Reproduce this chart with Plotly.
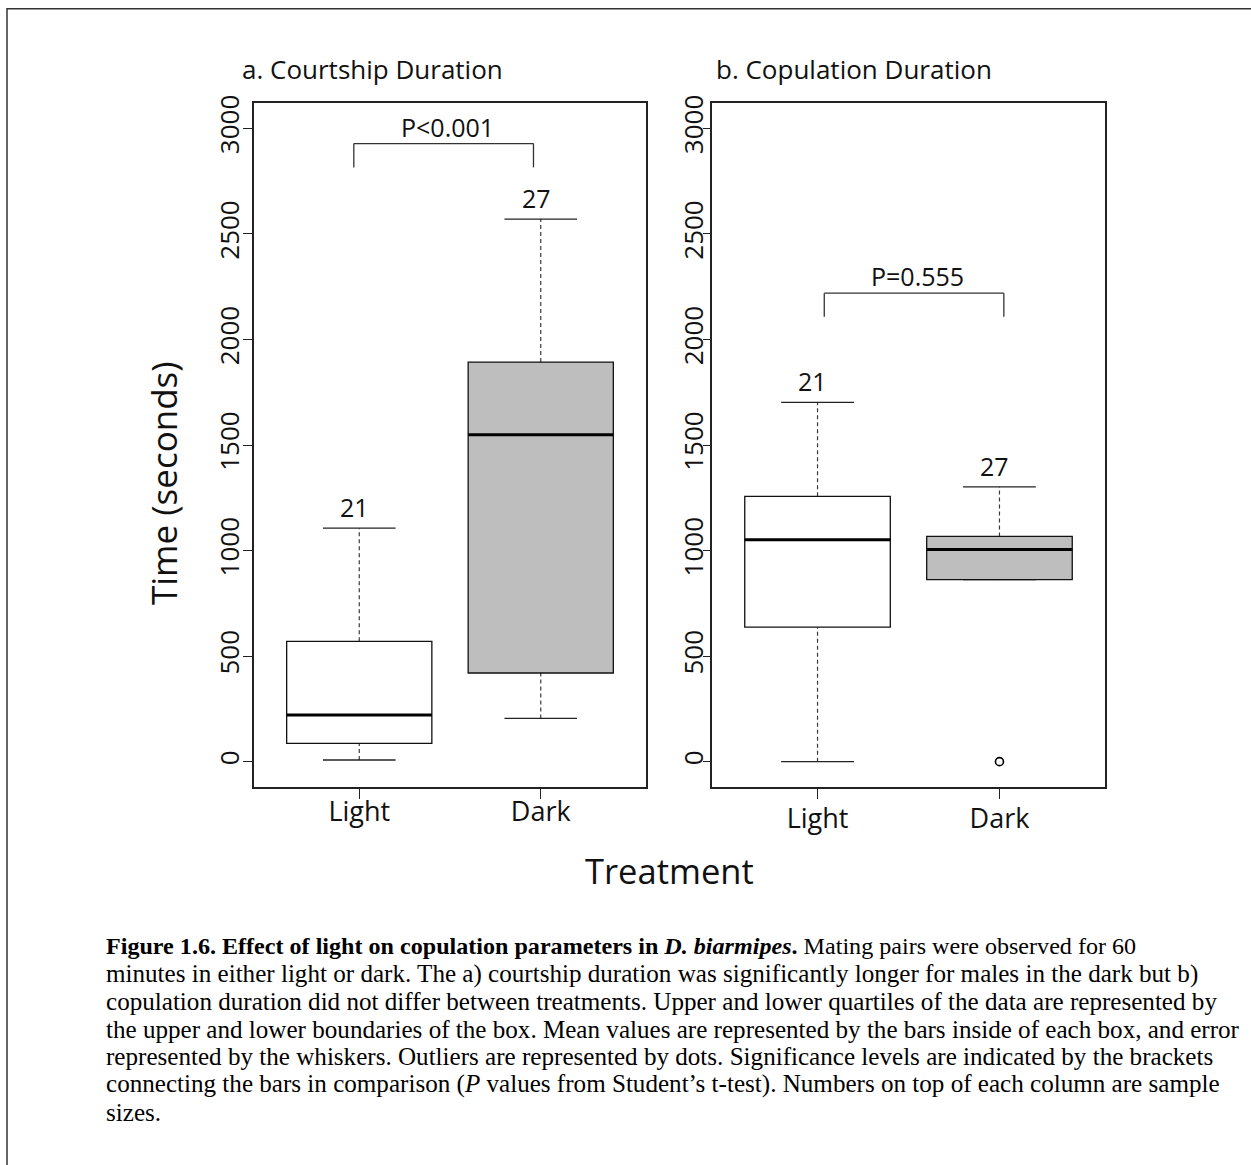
import plotly.graph_objects as go

W, H = 1251, 1165
# vertical placement: window rows are offset by a thin top strip
TOP_STRIP, V_SCALE = 8.0, 0.99313

# ---- data -------------------------------------------------------------
groups = ["Light", "Dark"]
box_fill = ["#FFFFFF", "#BEBEBE"]
y_ticks = [0, 500, 1000, 1500, 2000, 2500, 3000]

# a. courtship duration (seconds)
court_lower = [8, 205]
court_q1 = [87, 420]
court_median = [221, 1549]
court_q3 = [570, 1893]
court_upper = [1106, 2570]
court_n = [21, 27]
court_outliers = [[], []]
court_p = "P<0.001"

# b. copulation duration (seconds)
cop_lower = [0, 862]
cop_q1 = [637, 862]
cop_median = [1051, 1005]
cop_q3 = [1257, 1067]
cop_upper = [1702, 1302]
cop_n = [21, 27]
cop_outliers = [[], [0]]
cop_p = "P=0.555"

caption_lines = [
    "<b>Figure 1.6. Effect of light on copulation parameters in <i>D. biarmipes</i>.</b> Mating pairs were observed for 60",
    "minutes in either light or dark. The a) courtship duration was significantly longer for males in the dark but b)",
    "copulation duration did not differ between treatments. Upper and lower quartiles of the data are represented by",
    "the upper and lower boundaries of the box. Mean values are represented by the bars inside of each box, and error",
    "represented by the whiskers. Outliers are represented by dots. Significance levels are indicated by the brackets",
    "connecting the bars in comparison (<i>P</i> values from Student\u2019s t-test). Numbers on top of each column are sample",
    "sizes.",
]

FONT = "Open Sans"
BOX_W = 0.8
CAP_W = 0.4


def px(x):
    return x / W


def py(y):
    # window row -> paper fraction
    row = (y - TOP_STRIP) / V_SCALE
    return 1 - row / H


fig = go.Figure()


def add_panel(xref, yref, lower, q1, med, q3, upper, n, outliers,
              bracket, p_text):
    axis = dict(xref=xref, yref=yref)
    for i in range(len(groups)):
        xc = i + 1
        whisk = dict(color="#3a3a3a", width=1.2, dash="4px,3px")
        # whiskers
        fig.add_shape(type="line", x0=xc, x1=xc, y0=q3[i], y1=upper[i],
                      line=whisk, **axis)
        fig.add_shape(type="line", x0=xc, x1=xc, y0=lower[i], y1=q1[i],
                      line=whisk, **axis)
        # caps
        for v in (lower[i], upper[i]):
            fig.add_shape(type="line", x0=xc - CAP_W / 2, x1=xc + CAP_W / 2,
                          y0=v, y1=v, line=dict(color="#222", width=1.3),
                          **axis)
        # box
        fig.add_shape(type="rect", x0=xc - BOX_W / 2, x1=xc + BOX_W / 2,
                      y0=q1[i], y1=q3[i], fillcolor=box_fill[i],
                      line=dict(color="#111", width=1.3), **axis)
        # centre bar
        fig.add_shape(type="line", x0=xc - BOX_W / 2, x1=xc + BOX_W / 2,
                      y0=med[i], y1=med[i],
                      line=dict(color="#000", width=3), **axis)
        # sample size above the upper whisker
        fig.add_annotation(x=xc - 0.025, y=upper[i], text=str(n[i]),
                           showarrow=False, yanchor="middle", yshift=21,
                           font=dict(family=FONT, size=25, color="#111"),
                           **axis)
        # outliers
        if outliers[i]:
            fig.add_trace(go.Scatter(
                x=[xc] * len(outliers[i]), y=outliers[i], xaxis=xref,
                yaxis=yref, mode="markers",
                marker=dict(symbol="circle-open", size=8, color="#000",
                            line=dict(width=1.6)),
                showlegend=False, hoverinfo="skip"))
    # significance bracket
    bx0, bx1, btop, bleg = bracket
    bl = dict(color="#333", width=1.3)
    fig.add_shape(type="line", x0=bx0, x1=bx1, y0=btop, y1=btop, line=bl,
                  **axis)
    fig.add_shape(type="line", x0=bx0, x1=bx0, y0=btop, y1=bleg, line=bl,
                  **axis)
    fig.add_shape(type="line", x0=bx1, x1=bx1, y0=btop, y1=bleg, line=bl,
                  **axis)
    fig.add_annotation(x=(bx0 + bx1) / 2 + 0.02, y=btop, text=p_text,
                       showarrow=False, yanchor="middle", yshift=17,
                       font=dict(family=FONT, size=25, color="#111"), **axis)


add_panel("x", "y", court_lower, court_q1, court_median, court_q3,
          court_upper, court_n, court_outliers,
          (0.97, 1.96, 2928, 2815), court_p)
add_panel("x2", "y2", cop_lower, cop_q1, cop_median, cop_q3,
          cop_upper, cop_n, cop_outliers,
          (1.037, 2.024, 2219, 2107), cop_p)

frame = dict(showline=True, mirror=True, linecolor="#222", linewidth=1.5,
             showgrid=False, zeroline=False, ticks="outside",
             tickcolor="#222", tickwidth=1.3)
xcommon = dict(frame, range=[0.42, 2.58], tickvals=[1, 2], ticktext=groups,
               ticklen=10, tickfont=dict(family=FONT, size=27, color="#111"))
ycommon = dict(frame, range=[-120, 3120], tickvals=y_ticks,
               ticktext=[str(v) for v in y_ticks], tickangle=-90,
               tickfont=dict(family=FONT, size=26, color="#111"))

fig.update_layout(
    width=W, height=H, margin=dict(l=0, r=0, t=0, b=0),
    paper_bgcolor="white", plot_bgcolor="white", showlegend=False,
    xaxis=dict(xcommon, domain=[px(254), px(646)], anchor="y",
               ticklabelstandoff=-10),
    yaxis=dict(ycommon, domain=[py(787), py(103)], anchor="x", ticklen=9,
               ticklabelstandoff=-6),
    xaxis2=dict(xcommon, domain=[px(712), px(1105)], anchor="y2",
                ticklabelstandoff=-3),
    yaxis2=dict(ycommon, domain=[py(787), py(103)], anchor="x2", ticklen=7,
                ticklabelstandoff=-10),
)

# panel titles and shared axis titles
texts = [
    ("a. Courtship Duration", 372, 69, 26, 0),
    ("b. Copulation Duration", 854, 69, 26, 0),
    ("Time (seconds)", 163, 483, 35, -90),
    ("Treatment", 669, 870, 34.5, 0),
]
for t, x, y, s, ang in texts:
    fig.add_annotation(x=px(x), y=py(y), xref="paper", yref="paper", text=t,
                       showarrow=False, textangle=ang, xanchor="center",
                       yanchor="middle",
                       font=dict(family=FONT, size=s, color="#111"))

# caption, one line per annotation to keep the tight leading
for k, line in enumerate(caption_lines):
    fig.add_annotation(x=px(104), y=py(946 + k * 27.67), xref="paper",
                       yref="paper", text=line, showarrow=False,
                       xanchor="left", yanchor="middle", align="left",
                       font=dict(family="Liberation Serif",
                                 size=24.1 if k == 0 else 25.1,
                                 color="#000"))

# outer figure border (continues past the right/bottom edges)
fig.add_shape(type="rect", xref="paper", yref="paper", x0=px(7),
              y0=1 - 0.75 / H, x1=1.05, y1=-0.05,
              line=dict(color="#333", width=1.5),
              fillcolor="rgba(0,0,0,0)", layer="below")

fig.write_html("out.html")
